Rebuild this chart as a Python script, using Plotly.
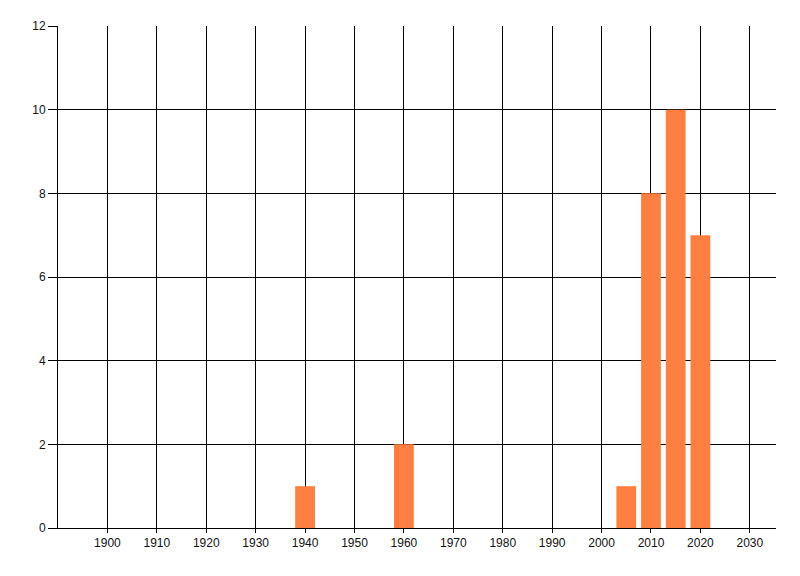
import plotly.graph_objects as go

years = [1940, 1960, 2005, 2010, 2015, 2020]
counts = [1, 2, 1, 8, 10, 7]
x_ticks = list(range(1900, 2031, 10))
y_ticks = list(range(0, 13, 2))

fig = go.Figure(go.Bar(x=years, y=counts, width=4, marker=dict(color="#FF7F41", line=dict(width=0))))

font = dict(family="Liberation Sans, Arial, sans-serif", size=12, color="#111111")
fig.update_layout(
    width=792, height=568,
    margin=dict(l=50, r=24, t=18, b=48),
    paper_bgcolor="white", plot_bgcolor="white",
    showlegend=False, font=font,
)
fig.update_xaxes(range=[1890, 2035.3], tickvals=x_ticks, ticktext=[str(v) for v in x_ticks],
                 showgrid=True, gridcolor="black", gridwidth=1,
                 showline=True, linecolor="black", linewidth=1,
                 ticks="outside", ticklen=4, tickcolor="black", zeroline=False)
fig.update_yaxes(range=[0, 12], tickvals=y_ticks,
                 showgrid=True, gridcolor="black", gridwidth=1,
                 showline=True, linecolor="black", linewidth=1,
                 ticks="outside", ticklen=9, tickcolor="black", zeroline=False)

fig.write_html("out.html")
